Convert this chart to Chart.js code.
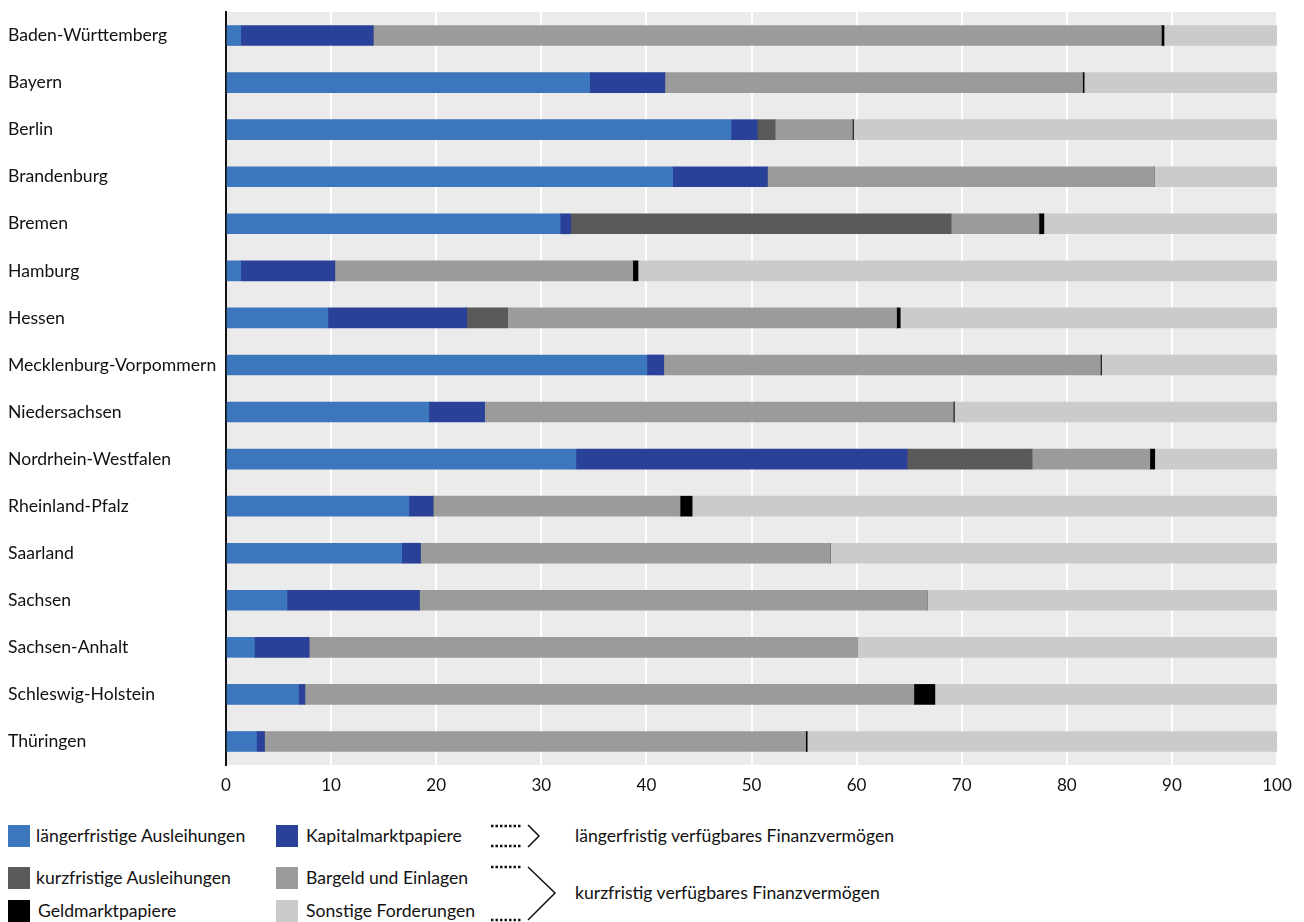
<!DOCTYPE html>
<html lang="de">
<head>
<meta charset="UTF-8">
<title>Finanzvermögen der Länder</title>
<script src="https://cdn.jsdelivr.net/npm/chart.js"></script>
<style>
    body { margin: 0; background: #fff; font-family: Lato, sans-serif; color: #111; }
    #wrap { position: relative; width: 1304px; height: 922px; }
    #box { position: absolute; left: 0; top: 0; width: 1304px; height: 800px; }
    .lg { position: absolute; font-size: 17.6px; line-height: 22px; white-space: nowrap; }
    .sw { position: absolute; width: 22px; height: 22px; }
    svg { position: absolute; left: 0; top: 800px; }
</style>
</head>
<body>
<div id="wrap">
    <div id="box"><canvas id="chart"></canvas></div>

    <div class="sw" style="left:8px;top:825px;background:#3c76bd"></div>
    <div class="lg" style="left:36px;top:825px">längerfristige Ausleihungen</div>
    <div class="sw" style="left:276px;top:825px;background:#2a4199"></div>
    <div class="lg" style="left:306px;top:825px">Kapitalmarktpapiere</div>

    <div class="sw" style="left:8px;top:867px;background:#5a5a5a"></div>
    <div class="lg" style="left:36px;top:867px">kurzfristige Ausleihungen</div>
    <div class="sw" style="left:276px;top:867px;background:#9b9b9b"></div>
    <div class="lg" style="left:306px;top:867px">Bargeld und Einlagen</div>

    <div class="sw" style="left:8px;top:900px;background:#000"></div>
    <div class="lg" style="left:38px;top:900px">Geldmarktpapiere</div>
    <div class="sw" style="left:276px;top:900px;background:#cbcbcb"></div>
    <div class="lg" style="left:306px;top:900px">Sonstige Forderungen</div>

    <svg width="120" height="122" style="left:485px">
        <g stroke="#111" stroke-width="2.5" stroke-dasharray="2.5 2" fill="none">
            <line x1="6" y1="26" x2="36" y2="26"/>
            <line x1="6" y1="46" x2="36" y2="46"/>
            <line x1="6" y1="67" x2="36" y2="67"/>
            <line x1="6" y1="120" x2="36" y2="120"/>
        </g>
        <g stroke="#111" stroke-width="1.5" fill="none">
            <polyline points="43,25 54,36 43,47"/>
            <polyline points="43,67 70,93 43,120"/>
        </g>
    </svg>
    <div class="lg" style="left:575px;top:825px">längerfristig verfügbares Finanzvermögen</div>
    <div class="lg" style="left:575px;top:882px">kurzfristig verfügbares Finanzvermögen</div>
</div>

<script>
    const laender = ["Baden-Württemberg", "Bayern", "Berlin", "Brandenburg", "Bremen", "Hamburg", "Hessen",
        "Mecklenburg-Vorpommern", "Niedersachsen", "Nordrhein-Westfalen", "Rheinland-Pfalz", "Saarland",
        "Sachsen", "Sachsen-Anhalt", "Schleswig-Holstein", "Thüringen"];
    const laengerfristigeAusleihungen = [1.4, 34.6, 48.05, 42.5, 31.8, 1.4, 9.7, 40.05, 19.3, 33.3, 17.4, 16.7, 5.8, 2.7, 6.9, 2.9];
    const kapitalmarktpapiere = [12.6, 7.15, 2.5, 9.0, 1.0, 8.95, 13.2, 1.6, 5.3, 31.5, 2.3, 1.8, 12.6, 5.2, 0.6, 0.75];
    const kurzfristigeAusleihungen = [0, 0, 1.7, 0, 36.2, 0, 3.9, 0, 0, 11.9, 0, 0, 0, 0, 0, 0];
    const bargeldEinlagen = [75.0, 39.75, 7.35, 36.8, 8.35, 28.35, 37.0, 41.55, 44.6, 11.2, 23.5, 39.0, 48.3, 52.2, 57.95, 51.5];
    const geldmarktpapiere = [0.25, 0.15, 0.1, 0, 0.47, 0.5, 0.35, 0.1, 0.1, 0.47, 1.15, 0, 0, 0, 2.0, 0.15];
    const sonstigeForderungen = [10.75, 18.35, 40.3, 11.7, 22.18, 60.8, 35.85, 16.7, 30.7, 11.63, 55.65, 42.5, 33.3, 39.9, 32.55, 44.7];
    const xTicks = [0, 10, 20, 30, 40, 50, 60, 70, 80, 90, 100];

    // grauer Hintergrund der Zeichenfläche
    const plotBg = {
        id: 'plotBg',
        beforeDraw(chart) {
            const { ctx, chartArea: a } = chart;
            ctx.save();
            ctx.fillStyle = '#ebebeb';
            ctx.fillRect(a.left, a.top, a.right - a.left, a.bottom - a.top);
            ctx.restore();
        }
    };

    const reihe = (label, data, color) => ({ label, data, backgroundColor: color, borderWidth: 0, barThickness: 20 });

    new Chart(document.getElementById('chart'), {
        type: 'bar',
        data: {
            labels: laender,
            datasets: [
                reihe("längerfristige Ausleihungen", laengerfristigeAusleihungen, '#3c76bd'),
                reihe("Kapitalmarktpapiere", kapitalmarktpapiere, '#2a4199'),
                reihe("kurzfristige Ausleihungen", kurzfristigeAusleihungen, '#5a5a5a'),
                reihe("Bargeld und Einlagen", bargeldEinlagen, '#9b9b9b'),
                reihe("Geldmarktpapiere", geldmarktpapiere, '#000000'),
                reihe("Sonstige Forderungen", sonstigeForderungen, '#cbcbcb')
            ]
        },
        options: {
            indexAxis: 'y',
            responsive: true,
            maintainAspectRatio: false,
            animation: false,
            layout: { padding: { top: 12, left: 8, right: 27, bottom: 0 } },
            plugins: { legend: { display: false }, tooltip: { enabled: false } },
            scales: {
                x: {
                    stacked: true,
                    min: 0,
                    max: 100,
                    afterBuildTicks(scale) { scale.ticks = xTicks.map(v => ({ value: v })); },
                    afterFit(scale) { scale.height = 35; },
                    grid: { color: '#ffffff', lineWidth: 2, drawTicks: false },
                    border: { display: false },
                    ticks: { padding: 10, color: '#111', font: { family: 'Lato', size: 17 } }
                },
                y: {
                    stacked: true,
                    afterFit(scale) { scale.width = 218; },
                    grid: { display: false, drawTicks: false },
                    border: { display: true, color: '#111', width: 2 },
                    ticks: { crossAlign: 'far', padding: 0, color: '#111', font: { family: 'Lato', size: 17.6 } }
                }
            }
        },
        plugins: [plotBg]
    });
</script>
</body>
</html>
